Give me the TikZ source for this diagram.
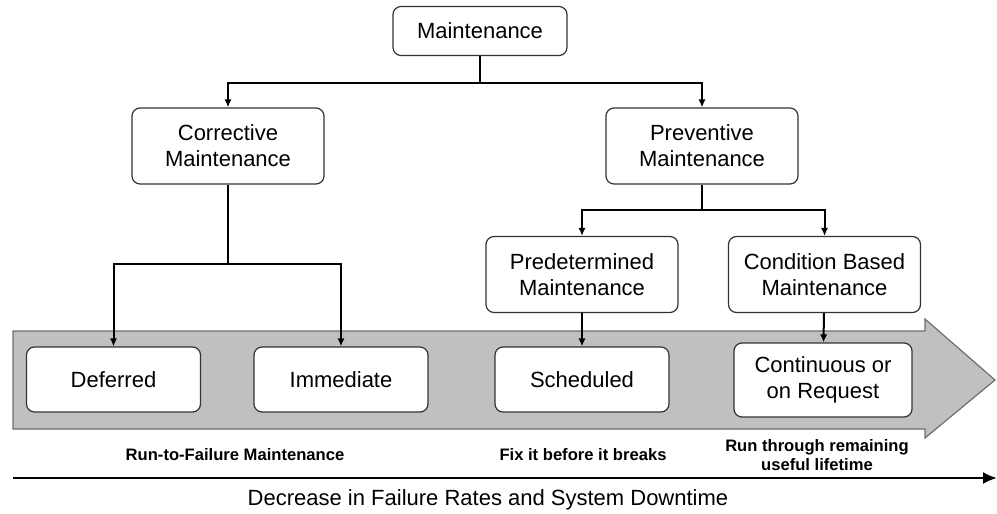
\documentclass[tikz,border=0pt]{standalone}
\usepackage{fontspec}
\setmainfont{Liberation Sans}
\usetikzlibrary{arrows.meta,positioning,calc}
\definecolor{band}{RGB}{192,192,192}
\definecolor{bandline}{RGB}{110,110,110}
\tikzset{
  every picture/.style={font=\fontsize{11}{13}\selectfont},
  box/.style={draw=black!80,fill=white,rounded corners=4pt,align=center,inner sep=0pt,line width=0.6pt},
  topbox/.style={box,minimum width=87pt,minimum height=24.5pt},
  midbox/.style={box,minimum width=96pt,minimum height=38pt},
  lowbox/.style={box,minimum width=87pt,minimum height=32.5pt},
  link/.style={line width=1pt},
  hit/.style={link,-{Latex[length=4pt,width=3.6pt]}},
  note/.style={font=\fontsize{8.3}{9.6}\selectfont\bfseries,align=center},
}
\begin{document}
\begin{tikzpicture}[x=0.5pt,y=-0.5pt]
  \useasboundingbox (0,0) rectangle (997,514);
  % grey band arrow
  \draw[fill=band,draw=bandline,line width=0.6pt]
    (13,331) -- (925,331) -- (925,319) -- (995,380) -- (925,438) -- (925,429) -- (13,429) -- cycle;
  % tree
  \node[topbox] (maint) at (480,31) {Maintenance};
  \node[midbox] (corr) at (228,146) {Corrective\\Maintenance};
  \node[midbox] (prev) at (702,146) {Preventive\\Maintenance};
  \node[midbox] (pred) at (582,274.5) {Predetermined\\Maintenance};
  \node[midbox] (cond) at (824.5,274.5) {Condition Based\\Maintenance};
  \node[lowbox] (defer) at (113.5,379.5) {Deferred};
  \node[lowbox] (immed) at (341,379.5) {Immediate};
  \node[lowbox] (sched) at (582,379.5) {Scheduled};
  \node[lowbox,minimum width=89pt,minimum height=37pt] (cont) at (823,380) {Continuous or\\on Request};
  \coordinate (s0) at (480,83);
  \coordinate (s1) at (228,264);
  \coordinate (s2) at (702,210);
  \draw[link] (maint) -- (s0);
  \draw[hit] (s0) -| (corr);
  \draw[hit] (s0) -| (prev);
  \draw[link] (corr) -- (s1);
  \draw[hit] (s1) -| (defer);
  \draw[hit] (s1) -| (immed);
  \draw[link] (prev) -- (s2);
  \draw[hit] (s2) -| (pred);
  \draw[hit] (s2) -| (cond);
  \draw[hit] (pred) -- (sched);
  \draw[hit] (cond) -- (cont);
  % labels under the band
  \node[note] (rtf) at (235,455) {Run-to-Failure Maintenance};
  \node[note] (fix) at (583,455) {Fix it before it breaks};
  \node[note] (rul) at (817,455) {Run through remaining\\useful lifetime};
  % time axis
  \coordinate (a0) at (13,478);
  \coordinate (a1) at (997,478);
  \draw[line width=1.1pt,-{Latex[length=7pt,width=6pt]}] (a0) -- (a1);
  \node (dec) at (488,500) {Decrease in Failure Rates and System Downtime};
\end{tikzpicture}
\end{document}
